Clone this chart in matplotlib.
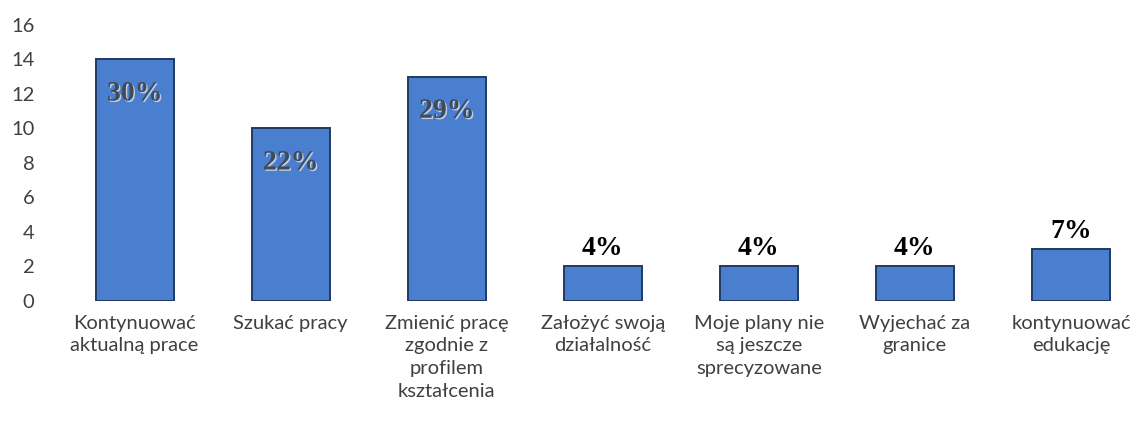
import matplotlib
matplotlib.use("Agg")
import matplotlib.pyplot as plt
import matplotlib.patheffects as pe

# answers (counts) and the percentage shown on each bar
categories = ["Kontynuować\naktualną prace", "Szukać pracy",
              "Zmienić pracę\nzgodnie z\nprofilem\nkształcenia",
              "Założyć swoją\ndziałalność", "Moje plany nie\nsą jeszcze\nsprecyzowane",
              "Wyjechać za\ngranice", "kontynuować\nedukację"]
counts = [14, 10, 13, 2, 2, 2, 3]
pct_labels = ["30%", "22%", "29%", "4%", "4%", "4%", "7%"]
yticks = [0, 2, 4, 6, 8, 10, 12, 14, 16]

fig = plt.figure(figsize=(11.38, 4.3), dpi=100)
ax = fig.add_axes([0.0497, 0.30, 0.960, 0.642])

x = range(len(categories))
ax.bar(x, counts, width=0.5, color="#4A7ECF", edgecolor="#223A60", linewidth=1.4)

for i, (v, lab) in enumerate(zip(counts, pct_labels)):
    if v >= 5:
        ax.text(i, v - 2.0, lab, ha="center", va="center", fontsize=20,
                fontweight="bold", family="Liberation Serif", color="#424B55",
                path_effects=[pe.withSimplePatchShadow(offset=(1, -1), shadow_rgbFace="#C8D6EA", alpha=0.9)])
    else:
        ax.text(i, v + 0.3, lab, ha="center", va="bottom", fontsize=20,
                fontweight="bold", family="Liberation Serif", color="black")

ax.set_xlim(-0.5, len(categories) - 0.5)
ax.set_ylim(0, 16)
ax.set_yticks(yticks)
ax.set_xticks(list(x))
ax.set_xticklabels(categories, fontsize=14.5, family="Lato", color="#404040", linespacing=1.4)
for t in ax.get_yticklabels():
    t.set_fontsize(14.5)
    t.set_family("Lato")
    t.set_color("#404040")
ax.tick_params(axis="both", length=0)
ax.tick_params(axis="y", pad=16)
ax.tick_params(axis="x", pad=10)
for s in ax.spines.values():
    s.set_visible(False)

fig.savefig("out.png", dpi=100)
